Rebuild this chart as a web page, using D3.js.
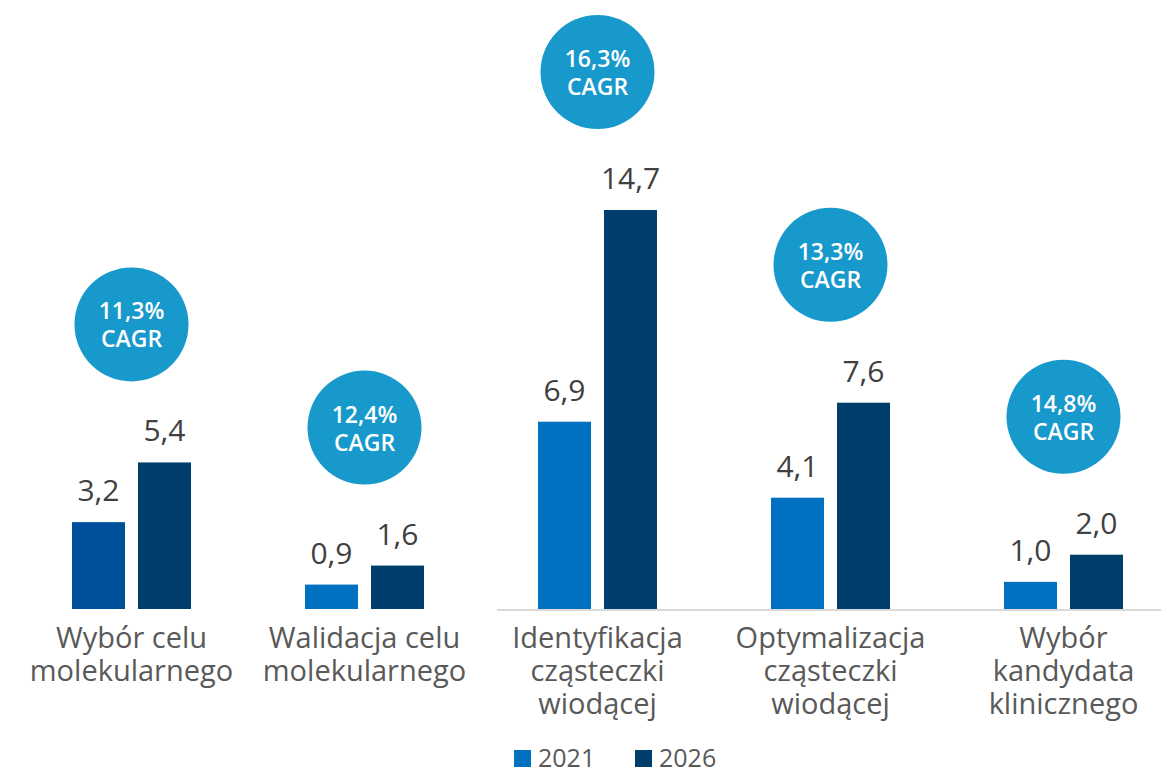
<!DOCTYPE html>
<html>
<head>
<meta charset="utf-8">
<script src="https://cdn.jsdelivr.net/npm/d3@7"></script>
<style>
  body { margin: 0; background: #fff; }
  svg { font-family: "Open Sans", "Noto Sans", sans-serif; }
</style>
</head>
<body>
<svg id="chart" width="1161" height="768"></svg>
<script>
// data
const categories = [
	["Wybór celu", "molekularnego"],
	["Walidacja celu", "molekularnego"],
	["Identyfikacja", "cząsteczki", "wiodącej"],
	["Optymalizacja", "cząsteczki", "wiodącej"],
	["Wybór", "kandydata", "klinicznego"]
];
const series = ["2021", "2026"];
const values2021 = [3.2, 0.9, 6.9, 4.1, 1.0];
const values2026 = [5.4, 1.6, 14.7, 7.6, 2.0];
const cagr = ["11,3%", "12,4%", "16,3%", "13,3%", "14,8%"];

const svg = d3.select("#chart");
const baseY = 609;

const x = d3.scaleBand()
	.domain(d3.range(categories.length))
	.range([15, 1180])
	.padding(0);

const xInner = d3.scaleBand()
	.domain(series)
	.range([x.bandwidth() / 2 - 59.5, x.bandwidth() / 2 + 59.5])
	.paddingInner(0.197)
	.paddingOuter(0);

const y = d3.scaleLinear().domain([0, 14.7]).range([baseY, 210]);

const colors = { "2021": "#0070c0", "2026": "#003f6b" };
const fmt = (v) => d3.format(".1f")(v).replace(".", ",");

const rows = categories.map((c, i) => ({
	i: i,
	label: c,
	vals: [
		{ s: "2021", v: values2021[i] },
		{ s: "2026", v: values2026[i] }
	],
	cagr: cagr[i]
}));

// baseline only under the right part
svg.append("line")
	.attr("x1", 497).attr("x2", 1161)
	.attr("y1", baseY + 1).attr("y2", baseY + 1)
	.attr("stroke", "#d9d9d9")
	.attr("stroke-width", 2);

const groups = svg.selectAll("g.grp")
	.data(rows)
	.join("g")
	.attr("class", "grp")
	.attr("transform", (d) => "translate(" + x(d.i) + ",0)");

groups.selectAll("rect")
	.data((d) => d.vals.map((v) => ({ ...v, i: d.i })))
	.join("rect")
	.attr("x", (d) => xInner(d.s))
	.attr("width", xInner.bandwidth())
	.attr("y", (d) => y(d.v))
	.attr("height", (d) => baseY - y(d.v))
	.attr("fill", (d) => (d.i === 0 && d.s === "2021" ? "#004f9a" : colors[d.s]));

groups.selectAll("text.val")
	.data((d) => d.vals)
	.join("text")
	.attr("class", "val")
	.attr("x", (d) => xInner(d.s) + xInner.bandwidth() / 2)
	.attr("y", (d) => y(d.v) - 21)
	.attr("text-anchor", "middle")
	.attr("font-size", 30)
	.attr("fill", "#404040")
	.text((d) => fmt(d.v));

// category labels
groups.append("text")
	.attr("text-anchor", "middle")
	.attr("font-size", 29)
	.attr("fill", "#595959")
	.selectAll("tspan")
	.data((d) => d.label)
	.join("tspan")
	.attr("x", x.bandwidth() / 2)
	.attr("y", (d, j) => 648 + j * 33)
	.text((d) => d);

// CAGR bubbles
const bubble = groups.append("g")
	.attr("transform", (d) => "translate(" + x.bandwidth() / 2 + "," + (y(d.vals[1].v) - 138) + ")");

bubble.append("circle")
	.attr("r", 57)
	.attr("fill", "#1899cc");

bubble.append("text")
	.attr("text-anchor", "middle")
	.attr("font-size", 23)
	.attr("font-weight", 600)
	.attr("fill", "#fff")
	.selectAll("tspan")
	.data((d) => [d.cagr, "CAGR"])
	.join("tspan")
	.attr("x", 0)
	.attr("y", (d, j) => -5 + j * 28)
	.text((d) => d);

// legend
const legend = svg.append("g").attr("transform", "translate(514,750)");
const li = legend.selectAll("g")
	.data(series)
	.join("g")
	.attr("transform", (d, i) => "translate(" + i * 121 + ",0)");
li.append("rect").attr("width", 17).attr("height", 17).attr("fill", (d) => colors[d]);
li.append("text")
	.attr("x", 24)
	.attr("y", 17)
	.attr("font-size", 25)
	.attr("fill", "#595959")
	.text((d) => d);
</script>
</body>
</html>
